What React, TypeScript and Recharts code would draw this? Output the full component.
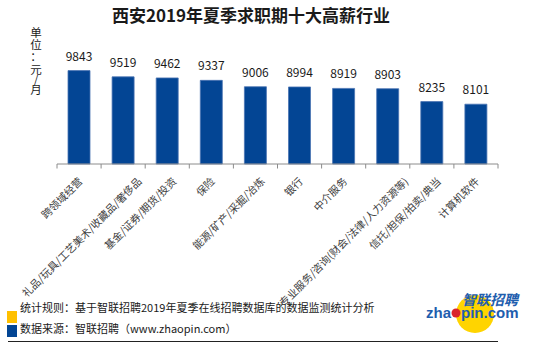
import React from 'react';
import { BarChart, Bar, XAxis, YAxis, LabelList } from 'recharts';

const industries = [
  '跨领域经营',
  '礼品/玩具/工艺美术/收藏品/奢侈品',
  '基金/证券/期货/投资',
  '保险',
  '能源/矿产/采掘/冶炼',
  '银行',
  '中介服务',
  '专业服务/咨询(财会/法律/人力资源等)',
  '信托/担保/拍卖/典当',
  '计算机软件',
];
const salaries = [9843, 9519, 9462, 9337, 9006, 8994, 8919, 8903, 8235, 8101];

const chartData = industries.map((name, i) => ({ name, value: salaries[i] }));

const CJK_FONT = '"Noto Sans CJK SC", "Noto Sans", sans-serif';
const BAR_BLUE = '#034594';

// rough width of a label so the long ones can be nudged right like the original
const labelWidth = (s: string) =>
  Array.from(s).reduce((w, ch) => w + (/[\u3000-\u9fff\uff00-\uffef]/.test(ch) ? 10.5 : 4), 0);

const CategoryTick = (props: any) => {
  const { x, y, payload, index, visibleTicksCount } = props;
  const half = payload && payload.offset ? payload.offset : 22;
  const label = String(payload.value);
  const shift = 1 + Math.max(0, labelWidth(label) - 55) * 0.14;
  const ax = x + shift;
  const ay = y + 15;
  const last = index === (visibleTicksCount || industries.length) - 1;
  return (
    <g>
      <line x1={x - half} y1={y} x2={x - half} y2={y + 4.5} stroke="#8c8c8c" />
      {last && <line x1={x + half} y1={y} x2={x + half} y2={y + 4.5} stroke="#8c8c8c" />}
      <text
        x={ax}
        y={ay}
        textAnchor="end"
        dominantBaseline="central"
        transform={`rotate(-45 ${ax} ${ay})`}
        fontSize={10.5}
        fontFamily={CJK_FONT}
        fill="#404040"
      >
        {label}
      </text>
    </g>
  );
};

const unitChars = [
  { c: '单', y: 32 },
  { c: '位', y: 44 },
  { c: '：', y: 56 },
  { c: '元', y: 69 },
  { c: '/', y: 79 },
  { c: '月', y: 89 },
];

const App: React.FC = () => {
  return (
    <div style={{ position: 'absolute', left: 0, top: 0, width: 550, height: 348, background: '#fff' }}>
      <BarChart
        width={550}
        height={348}
        data={chartData}
        margin={{ top: 29, right: 52, bottom: 0, left: 57 }}
      >
        <XAxis
          dataKey="name"
          height={184}
          interval={0}
          tickLine={false}
          tickSize={0}
          tickMargin={0}
          axisLine={{ stroke: '#8c8c8c' }}
          tick={<CategoryTick />}
        />
        <YAxis hide domain={[5000, 12000]} />
        <Bar dataKey="value" fill={BAR_BLUE} stroke="#4a74b3" strokeWidth={0.8} barSize={22} isAnimationActive={false}>
          <LabelList dataKey="value" position="top" offset={10} fontSize={12} fill="#1a1a1a" fontFamily={CJK_FONT} />
        </Bar>
      </BarChart>

      <svg width={550} height={348} style={{ position: 'absolute', left: 0, top: 0, pointerEvents: 'none' }}>
        <text x={251} y={22} textAnchor="middle" fontSize={17} fontWeight="bold" fontFamily={CJK_FONT} fill="#1a1a1a">
          西安2019年夏季求职期十大高薪行业
        </text>

        {unitChars.map((u) => (
          <text key={u.c + u.y} x={36} y={u.y} textAnchor="middle" dominantBaseline="central" fontSize={11.5} fontFamily={CJK_FONT} fill="#1a1a1a">
            {u.c}
          </text>
        ))}

        <rect x={7} y={311} width={10} height={12} fill="#FFC000" />
        <text x={20} y={312} fontSize={11} fontFamily={CJK_FONT} fill="#1a1a1a">
          统计规则：基于智联招聘2019年夏季在线招聘数据库的数据监测统计分析
        </text>
        <rect x={7} y={325} width={10} height={12} fill={BAR_BLUE} />
        <text x={20} y={333} fontSize={11} fontFamily={CJK_FONT} fill="#1a1a1a">
          数据来源：智联招聘（www.zhaopin.com）
        </text>
        <line x1={8} y1={341.5} x2={498} y2={341.5} stroke="#222" strokeWidth={1} />

        {/* zhaopin logo */}
        <circle cx={475} cy={314} r={19} fill="#FFD400" />
        <text x={462} y={305} fontSize={14} fontWeight="bold" fontStyle="italic" fontFamily={CJK_FONT} fill="#1F5EAE">
          智联招聘
        </text>
        <text x={451} y={318} textAnchor="end" fontSize={15} fontWeight="bold" fontFamily='"Liberation Sans", Arial, sans-serif' fill="#1F5EAE">
          zha
        </text>
        <circle cx={456} cy={313} r={4.5} fill="#D9262B" />
        <text x={461} y={318} fontSize={15} fontWeight="bold" fontFamily='"Liberation Sans", Arial, sans-serif' fill="#1F5EAE">
          pin.com
        </text>
      </svg>
    </div>
  );
};

export default App;
